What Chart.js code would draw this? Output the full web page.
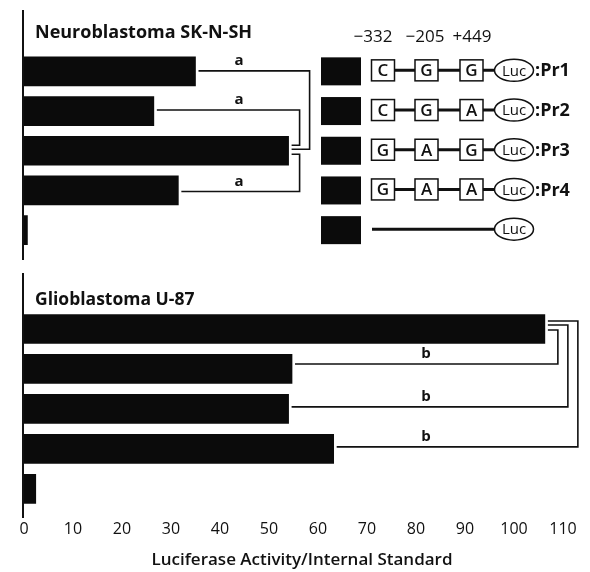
<!DOCTYPE html>
<html>
<head>
<meta charset="utf-8">
<script src="https://cdn.jsdelivr.net/npm/chart.js@4"></script>
<style>
  body { margin: 0; background: #fff; }
  #wrap { position: relative; width: 590px; height: 572px; }
  canvas { position: absolute; left: 0; }
  #neuroChart { top: 0; }
  #gliomaChart { top: 260px; }
</style>
</head>
<body>
<div id="wrap">
  <canvas id="neuroChart" width="590" height="260"></canvas>
  <canvas id="gliomaChart" width="590" height="312"></canvas>
</div>
<script>
// data
const constructs = ['Pr1', 'Pr2', 'Pr3', 'Pr4', 'Luc']
const neuroValues = [35, 26.5, 54, 31.5, 0.7]
const gliomaValues = [106.3, 54.7, 54, 63.2, 2.4]
const xTicks = [0, 10, 20, 30, 40, 50, 60, 70, 80, 90, 100, 110]
const snpPositions = ['\u2212332', '\u2212205', '+449']
const alleles = [['C', 'G', 'G'], ['C', 'G', 'A'], ['G', 'A', 'G'], ['G', 'A', 'A'], null]
// significance links: [from bar, to bar, letter]
const neuroLinks = [[0, 2, 'a'], [1, 2, 'a'], [3, 2, 'a']]
const gliomaLinks = [[1, 0, 'b'], [2, 0, 'b'], [3, 0, 'b']]
const xTitle = 'Luciferase Activity/Internal Standard'

const FONT = "'Open Sans', sans-serif"
Chart.defaults.font.family = FONT
Chart.defaults.color = '#111'

//brackets drawn from bar ends
const brackets = {
    id: 'brackets',
    afterDatasetsDraw(chart, args, opts) {
        const {ctx, scales: {x, y}} = chart
        const values = chart.data.datasets[0].data
        ctx.save()
        ctx.strokeStyle = '#111'
        ctx.lineWidth = 1.6
        ctx.fillStyle = '#111'
        ctx.font = 'bold 15px ' + FONT
        ctx.textAlign = 'center'
        ctx.textBaseline = 'middle'
        opts.links.forEach((l, i) => {
            const s = opts.style[i]
            const hubEnd = x.getPixelForValue(values[l[1]])
            const xs = x.getPixelForValue(values[l[0]]) + 3
            const ys = y.getPixelForValue(l[0]) + s.dy
            const xo = hubEnd + s.out
            const yh = y.getPixelForValue(l[1]) + s.hub
            ctx.beginPath()
            ctx.moveTo(xs, ys)
            ctx.lineTo(xo, ys)
            ctx.lineTo(xo, yh)
            ctx.lineTo(hubEnd + 3, yh)
            ctx.stroke()
            ctx.fillText(l[2], opts.labelX, ys - 10)
        })
        ctx.restore()
    }
}

//left axis line + panel title (+ x title on the bottom panel)
const panel = {
    id: 'panel',
    afterDraw(chart, args, opts) {
        const {ctx, scales: {x}} = chart
        const x0 = x.getPixelForValue(0)
        ctx.save()
        ctx.strokeStyle = '#111'
        ctx.lineWidth = 2
        ctx.beginPath()
        ctx.moveTo(x0 - 1, opts.lineTop)
        ctx.lineTo(x0 - 1, opts.lineBottom)
        ctx.stroke()
        ctx.fillStyle = '#111'
        ctx.font = 'bold ' + opts.titleSize + 'px ' + FONT
        ctx.textBaseline = 'middle'
        ctx.fillText(opts.title, 35, opts.titleY)
        if (opts.xTitle) {
            ctx.font = '600 17px ' + FONT
            ctx.textAlign = 'center'
            ctx.fillText(opts.xTitle, 302, opts.xTitleY)
        }
        ctx.restore()
    }
}

//construct diagrams to the right of the top panel
const diagrams = {
    id: 'diagrams',
    afterDraw(chart) {
        const {ctx, scales: {y}} = chart
        const boxX = [383, 426.5, 471.5]
        const headX = [373, 425, 472]
        ctx.save()
        ctx.fillStyle = '#111'
        ctx.strokeStyle = '#111'
        ctx.font = '17px ' + FONT
        ctx.textBaseline = 'middle'
        ctx.textAlign = 'center'
        snpPositions.forEach((p, k) => ctx.fillText(p, headX[k], 37))
        constructs.forEach((name, i) => {
            const cy = y.getPixelForValue(i)
            const my = cy - 1
            ctx.fillStyle = '#0b0b0b'
            ctx.fillRect(321, cy - 14, 40, 28)
            ctx.fillStyle = '#111'
            ctx.lineWidth = 3
            ctx.beginPath()
            if (alleles[i]) {
                ctx.moveTo(394, my); ctx.lineTo(415.5, my)
                ctx.moveTo(437.5, my); ctx.lineTo(460.5, my)
                ctx.moveTo(482.5, my); ctx.lineTo(495, my)
            } else {
                ctx.moveTo(372, my); ctx.lineTo(495, my)
            }
            ctx.stroke()
            ctx.lineWidth = 1.5
            if (alleles[i]) {
                ctx.font = '600 17px ' + FONT
                ctx.textAlign = 'center'
                alleles[i].forEach((a, k) => {
                    ctx.fillStyle = '#fff'
                    ctx.fillRect(boxX[k] - 11.5, my - 10.5, 23, 21)
                    ctx.strokeRect(boxX[k] - 11.5, my - 10.5, 23, 21)
                    ctx.fillStyle = '#111'
                    ctx.fillText(a, boxX[k], my + 1)
                })
            }
            ctx.fillStyle = '#fff'
            ctx.beginPath()
            ctx.ellipse(514, my, 19.5, 11, 0, 0, Math.PI * 2)
            ctx.fill()
            ctx.stroke()
            ctx.fillStyle = '#111'
            ctx.font = '15px ' + FONT
            ctx.textAlign = 'center'
            ctx.fillText('Luc', 514, my + 1)
            if (alleles[i]) {
                ctx.font = 'bold 18px ' + FONT
                ctx.textAlign = 'left'
                ctx.fillText(':' + name, 535, my + 1)
            }
        })
        ctx.restore()
    }
}

function barData(values) {
    return {
        labels: constructs,
        datasets: [{
            data: values,
            backgroundColor: '#0b0b0b',
            barThickness: 29,
        }]
    }
}

const neuroChart = new Chart(document.getElementById('neuroChart'), {
    type: 'bar',
    data: barData(neuroValues),
    options: {
        indexAxis: 'y',
        responsive: false,
        animation: false,
        layout: { padding: { top: 51.5, bottom: 10, left: 24, right: 27 } },
        scales: {
            x: { display: false, min: 0, max: 110 },
            y: { display: false },
        },
        plugins: {
            legend: { display: false },
            tooltip: { enabled: false },
            brackets: {
                links: neuroLinks,
                labelX: 239,
                style: [{dy: -0.5, out: 21, hub: -1.5}, {dy: -1, out: 11, hub: -5.5}, {dy: 1, out: 11, hub: 3.5}],
            },
            panel: { title: 'Neuroblastoma SK-N-SH', titleSize: 18, titleY: 33, lineTop: 10, lineBottom: 260 },
        }
    },
    plugins: [brackets, panel, diagrams],
})

const gliomaChart = new Chart(document.getElementById('gliomaChart'), {
    type: 'bar',
    data: barData(gliomaValues),
    options: {
        indexAxis: 'y',
        responsive: false,
        animation: false,
        layout: { padding: { top: 49, bottom: 22, left: 24, right: 27 } },
        scales: {
            x: {
                min: 0,
                max: 110,
                afterBuildTicks(scale) {
                    scale.ticks = xTicks.map(v => ({ value: v }))
                },
                grid: { display: false, drawTicks: false },
                border: { display: false },
                ticks: { font: { size: 16 }, padding: 11, color: '#111' },
            },
            y: { display: false },
        },
        plugins: {
            legend: { display: false },
            tooltip: { enabled: false },
            brackets: {
                links: gliomaLinks,
                labelX: 426,
                style: [{dy: -5, out: 13, hub: 1}, {dy: -2, out: 23, hub: -4}, {dy: -2, out: 33, hub: -8}],
            },
            panel: {
                title: 'Glioblastoma U-87', titleSize: 17.5, titleY: 40, lineTop: 13, lineBottom: 258,
                xTitle: xTitle, xTitleY: 300,
            },
        }
    },
    plugins: [brackets, panel],
})
</script>
</body>
</html>
